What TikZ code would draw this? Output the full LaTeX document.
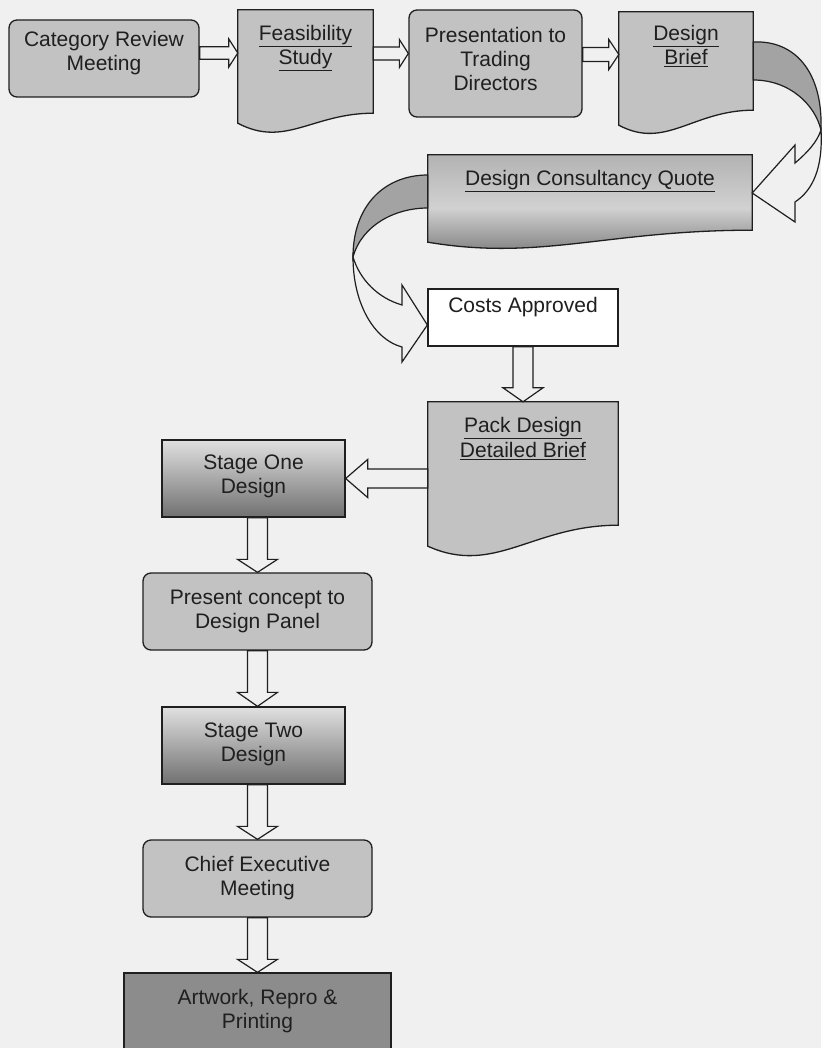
\documentclass[tikz,border=0pt]{standalone}
\usepackage{fontspec}
\setmainfont{Liberation Sans}
\usetikzlibrary{calc}

\pgfdeclarelayer{paper}
\pgfdeclarelayer{background}
\pgfsetlayers{paper,background,main}

\definecolor{paper}{gray}{0.94}
\definecolor{boxgray}{gray}{0.76}
\definecolor{darkbox}{gray}{0.55}
\definecolor{bandgray}{gray}{0.64}
\definecolor{ink}{gray}{0.12}

% extra depth below the last line, lifts the text in its box
\newcommand{\pushup}[1]{\rule[-#1pt]{0pt}{#1pt}}

% hollow block arrow: start, end, half shaft, half head, head length
\newcommand{\blockarrow}[5]{%
  \path #1 coordinate (bs) #2 coordinate (be) ($(be)!#5pt!(bs)$) coordinate (bh);
  \draw[blockline] ($(bs)!#3pt!90:(be)$) -- ($(bh)!#3pt!90:(be)$) -- ($(bh)!#4pt!90:(be)$)
    -- (be) -- ($(bh)!#4pt!-90:(be)$) -- ($(bh)!#3pt!-90:(be)$) -- ($(bs)!#3pt!-90:(be)$) -- cycle;}

% document outline round a node: node, width, rise of right corner, dip, style
\newcommand{\docshape}[5]{%
  \draw[#5] (#1.north west) -- (#1.north east) -- ([yshift=#3pt]#1.south east)
    .. controls +(-0.45*#2,0) and +(0.35*#2,#4) .. (#1.south west) -- cycle;}

\tikzset{
  base/.style={font=\fontsize{21}{24}\selectfont, text=ink, align=center, inner sep=0pt},
  roundbox/.style={base, draw=ink, line width=1.3pt, fill=boxgray, rounded corners=8pt},
  plainbox/.style={base, draw=ink, line width=1.3pt, fill=boxgray},
  shadebox/.style={base, draw=ink, line width=1.3pt, top color=black!12, bottom color=black!56},
  docbox/.style={base},
  docline/.style={draw=ink, line width=1.3pt, fill=boxgray},
  blockline/.style={draw=ink, line width=1.2pt, line join=miter},
  bandfront/.style={draw=ink, line width=1.2pt, fill=bandgray},
  bandback/.style={draw=ink, line width=1.2pt, fill=paper}
}

\begin{document}
\begin{tikzpicture}[x=1pt, y=-1pt]
  \useasboundingbox (0,0) rectangle (821,1048);
  \begin{pgfonlayer}{paper}
    \fill[paper] (0,0) rectangle (821,1048);
  \end{pgfonlayer}

  % top row
  \node[roundbox, minimum width=190pt, minimum height=77pt] (crm) at (104,58.5) {Category Review\\Meeting\pushup{15}};
  \node[docbox, minimum width=135pt, minimum height=113pt] (fs) at (305.5,66.5) {\underline{Feasibility}\\\underline{Study}\pushup{43}};
  \node[roundbox, minimum width=173pt, minimum height=107pt] (ptd) at (495.5,63.5) {Presentation to\\Trading\\Directors\pushup{9}};
  \node[docbox, minimum width=134pt, minimum height=113pt] (db) at (686,68.5) {\underline{Design}\\\underline{Brief}\pushup{47}};

  % right column
  \node[docbox, minimum width=324pt, minimum height=87pt] (dcq) at (590,198.5) {\underline{Design Consultancy Quote}\pushup{41}};
  \node[plainbox, fill=white, minimum width=190pt, minimum height=57pt] (ca) at (523,317.5) {Costs Approved\pushup{25}};
  \node[docbox, minimum width=190pt, minimum height=144pt] (pdb) at (523,474) {\underline{Pack Design}\\[1pt]\underline{Detailed Brief}\pushup{73}};

  % left column
  \node[shadebox, minimum width=183pt, minimum height=77pt] (sod) at (253.5,478.5) {Stage One\\Design\pushup{9}};
  \node[roundbox, minimum width=229pt, minimum height=77pt] (pcdp) at (257.5,611.5) {Present concept to\\Design Panel};
  \node[shadebox, minimum width=183pt, minimum height=77pt] (std) at (253.5,745.5) {Stage Two\\Design\pushup{7}};
  \node[roundbox, minimum width=229pt, minimum height=77pt] (cem) at (257.5,878.5) {Chief Executive\\Meeting};
  \node[plainbox, fill=darkbox, minimum width=267pt, minimum height=83pt] (arp) at (257.5,1014.5) {Artwork, Repro \&\\Printing\pushup{11}};

  \begin{pgfonlayer}{background}
    \docshape{fs}{135}{10}{25}{docline}
    \docshape{db}{134}{15}{25}{docline}
    \docshape{dcq}{324}{12}{19}{docline, top color=black!30, bottom color=black!55, middle color=black!18}
    \docshape{pdb}{190}{21}{30}{docline}
  \end{pgfonlayer}

  % straight arrows
  \coordinate (a1) at ([yshift=5.5pt]crm.east);
  \blockarrow{(a1)}{(a1 -| fs.west)}{6.3}{14}{9}
  \coordinate (a2) at ([yshift=13pt]fs.east);
  \blockarrow{(a2)}{(a2 -| ptd.west)}{6.5}{14}{9}
  \coordinate (a3) at ([yshift=9pt]ptd.east);
  \blockarrow{(a3)}{(a3 -| db.west)}{7}{15}{10}
  \blockarrow{(ca.south)}{(pdb.north)}{10}{20}{14}
  \coordinate (a5) at ([yshift=-4.5pt]pdb.west);
  \blockarrow{(a5)}{(a5 -| sod.east)}{9.5}{19}{22}
  \blockarrow{(sod.south -| pcdp.north)}{(pcdp.north)}{10}{20}{13}
  \blockarrow{(pcdp.south)}{(pcdp.south |- std.north)}{10}{20}{14}
  \blockarrow{(std.south -| cem.north)}{(cem.north)}{10}{20}{13}
  \blockarrow{(cem.south)}{(cem.south |- arp.north)}{10}{20}{13}

  % curved arrow, design brief to quote
  \draw[bandfront] ([yshift=26.5pt]db.east) .. controls (795,40) and (823,72) .. (821,130)
    .. controls (815,105) and (790,80) .. ([yshift=-11.5pt]db.east) -- cycle;
  \draw[bandback] (821,130) .. controls (823,168) and (813,190) .. (795,202) -- (795,222)
    -- ([yshift=5.5pt]dcq.east) -- (795,145) -- (795,163) .. controls (808,152) and (817,142) .. (821,130) -- cycle;

  % curved arrow, quote to costs approved
  \draw[bandfront] ([yshift=23.5pt]dcq.west) .. controls (385,175) and (353,205) .. (353,257)
    .. controls (362,225) and (395,208) .. ([yshift=-9.5pt]dcq.west) -- cycle;
  \draw[bandback] (353,257) .. controls (353,305) and (375,340) .. (402,347) -- (402,362)
    -- ([yshift=-7.5pt]ca.west) -- (402,285) -- (402,305) .. controls (378,298) and (360,280) .. (353,257) -- cycle;
\end{tikzpicture}
\end{document}
